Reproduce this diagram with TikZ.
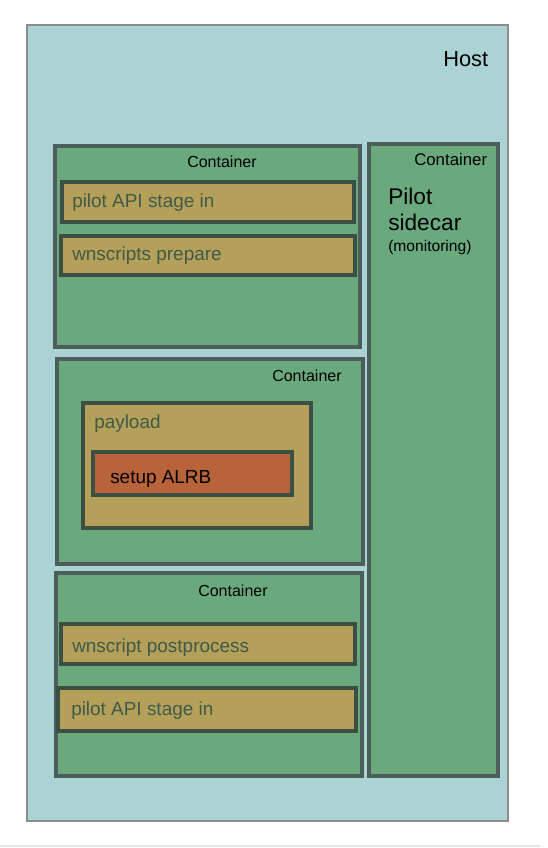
\documentclass[tikz,border=0pt]{standalone}
\usepackage{fontspec}
\setmainfont{Liberation Sans}
\usetikzlibrary{fit}
\definecolor{hostfill}{HTML}{ABD3D3}
\definecolor{hostline}{HTML}{8C8C8C}
\definecolor{contfill}{HTML}{6AA97E}
\definecolor{contline}{HTML}{4B5E5A}
\definecolor{stepfill}{HTML}{B5A05A}
\definecolor{stepline}{HTML}{3C4F45}
\definecolor{steptext}{HTML}{3E5A48}
\definecolor{alrbfill}{HTML}{B8633A}
\tikzset{
  hostbox/.style={draw=hostline, fill=hostfill, line width=1.9pt, inner sep=0pt},
  contbox/.style={draw=contline, fill=contfill, line width=2.4pt, inner sep=0pt},
  stepbox/.style={draw=stepline, fill=stepfill, line width=2.4pt, inner sep=0pt},
  alrbbox/.style={draw=stepline, fill=alrbfill, line width=2.4pt, inner sep=0pt},
  lbl/.style={anchor=base west, inner sep=0pt},
  conttxt/.style={lbl, font=\fontsize{12}{14}\selectfont},
  steptxt/.style={lbl, text=steptext, font=\fontsize{14.2}{17}\selectfont},
}
\begin{document}
\begin{tikzpicture}[x=0.75pt,y=-0.75pt]
\useasboundingbox (0,0) rectangle (548,848);
\draw[draw=black!10, line width=0.8pt] (0,846) -- (540,846);
% host
\node[hostbox, fit={(27,25) (508,821)}] (host) {};
\node[lbl, font=\fontsize{16.4}{19}\selectfont] (hostlbl) at (443,67) {Host};
% container 1
\node[contbox, fit={(55,146) (360,347)}] (c1) {};
\node[conttxt] (c1lbl) at (187,168) {Container};
\node[stepbox, fit={(62,182) (354,222)}] (s1) {};
\node[steptxt] (s1lbl) at (72,208) {pilot API stage in};
\node[stepbox, fit={(61,236) (355,275)}] (s2) {};
\node[steptxt] (s2lbl) at (72,261) {wnscripts prepare};
% container 2
\node[contbox, fit={(57,359) (363,564)}] (c2) {};
\node[conttxt] (c2lbl) at (272,381) {Container};
\node[stepbox, fit={(83,403) (311,528)}] (pay) {};
\node[steptxt] (paylbl) at (94,428) {payload};
\node[alrbbox, fit={(93,452) (292,495)}] (alrb) {};
\node[lbl, font=\fontsize{14.2}{17}\selectfont] (alrblbl) at (110,483) {setup ALRB};
% container 3
\node[contbox, fit={(56,573) (362,776)}] (c3) {};
\node[conttxt] (c3lbl) at (198,596) {Container};
\node[stepbox, fit={(61,624) (355,664)}] (s3) {};
\node[steptxt] (s3lbl) at (72,652) {wnscript postprocess};
\node[stepbox, fit={(58,688) (356,731)}] (s4) {};
\node[steptxt] (s4lbl) at (71,715) {pilot API stage in};
% sidecar container
\node[contbox, fit={(369,144) (498,776)}] (c4) {};
\node[conttxt, font=\fontsize{12.6}{15}\selectfont] (c4lbl) at (414,166) {Container};
\node[lbl, font=\fontsize{17}{20}\selectfont] (pilot) at (388,205) {Pilot};
\node[lbl, font=\fontsize{17}{20}\selectfont] (sidecar) at (388,231) {sidecar};
\node[lbl, font=\fontsize{11.7}{14}\selectfont] (mon) at (388,252) {(monitoring)};
\end{tikzpicture}
\end{document}
